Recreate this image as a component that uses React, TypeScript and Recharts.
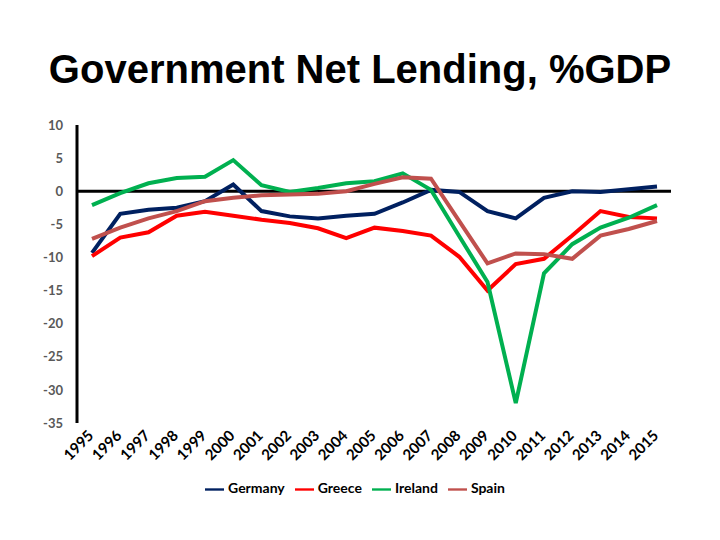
import { LineChart, Line, XAxis, YAxis, Legend, ReferenceLine } from "recharts";

const years = [
  "1995", "1996", "1997", "1998", "1999", "2000", "2001", "2002", "2003", "2004", "2005",
  "2006", "2007", "2008", "2009", "2010", "2011", "2012", "2013", "2014", "2015",
];

const germany = [-9.3, -3.4, -2.8, -2.5, -1.5, 1.0, -3.0, -3.8, -4.1, -3.7, -3.4, -1.7, 0.2, -0.1, -3.0, -4.1, -1.0, 0.0, -0.1, 0.3, 0.7];
const greece = [-9.8, -7.0, -6.2, -3.7, -3.1, -3.7, -4.3, -4.8, -5.6, -7.1, -5.5, -6.0, -6.7, -9.9, -15.0, -11.0, -10.2, -6.7, -3.0, -3.9, -4.1];
const ireland = [-2.1, -0.3, 1.2, 2.0, 2.2, 4.7, 0.9, -0.1, 0.5, 1.2, 1.5, 2.7, 0.2, -6.8, -13.7, -32.0, -12.4, -8.0, -5.5, -4.0, -2.1];
const spain = [-7.2, -5.5, -4.1, -3.0, -1.5, -1.0, -0.6, -0.5, -0.4, 0.0, 1.1, 2.1, 1.9, -4.5, -10.9, -9.4, -9.5, -10.2, -6.7, -5.7, -4.5];

const yTicks = [10, 5, 0, -5, -10, -15, -20, -25, -30, -35];

const series = [
  { key: "Germany", color: "#002060", values: germany },
  { key: "Greece", color: "#FF0000", values: greece },
  { key: "Ireland", color: "#00B050", values: ireland },
  { key: "Spain", color: "#C0504D", values: spain },
];

const data = years.map((year, i) => {
  const row: Record<string, string | number> = { year };
  series.forEach((s) => {
    row[s.key] = s.values[i];
  });
  return row;
});

const FONT = "Lato, 'DejaVu Sans', sans-serif";

export default function App() {
  return (
    <div style={{ position: "absolute", left: 0, top: 0, width: 720, height: 540, background: "#fff" }}>
      <div
        style={{
          position: "absolute",
          left: 0,
          top: 47,
          width: 720,
          textAlign: "center",
          fontFamily: "'Liberation Sans', Arial, sans-serif",
          fontWeight: "bold",
          fontSize: 40,
          color: "#000",
        }}
      >
        Government Net Lending, %GDP
      </div>
      <LineChart
        width={720}
        height={540}
        data={data}
        margin={{ top: 125, right: 49, bottom: 87, left: 0 }}
      >
        <XAxis
          dataKey="year"
          axisLine={false}
          tickLine={false}
          interval={0}
          padding={{ left: 15, right: 14 }}
          angle={-45}
          textAnchor="end"
          tick={{ fill: "#000", fontSize: 15, fontWeight: "bold", fontFamily: FONT }}
          dx={-5}
          dy={-2}
        />
        <YAxis
          width={77}
          domain={[-35, 10]}
          ticks={yTicks}
          interval={0}
          tickLine={false}
          tickMargin={8}
          axisLine={{ stroke: "#000", strokeWidth: 3 }}
          tick={{ fill: "#595959", fontSize: 13, fontWeight: "bold", fontFamily: FONT }}
        />
        <ReferenceLine y={0} stroke="#000" strokeWidth={3} />
        {series.map((s) => (
          <Line
            key={s.key}
            type="linear"
            dataKey={s.key}
            stroke={s.color}
            strokeWidth={4}
            dot={false}
            isAnimationActive={false}
          />
        ))}
        <Legend
          layout="horizontal"
          verticalAlign="middle"
          align="center"
          iconType="plainline"
          iconSize={19}
          wrapperStyle={{ top: 479, left: 0, width: 720, fontFamily: FONT, fontSize: 14, fontWeight: "bold" }}
          formatter={(value) => <span style={{ color: "#000" }}>{value}</span>}
        />
      </LineChart>
    </div>
  );
}
